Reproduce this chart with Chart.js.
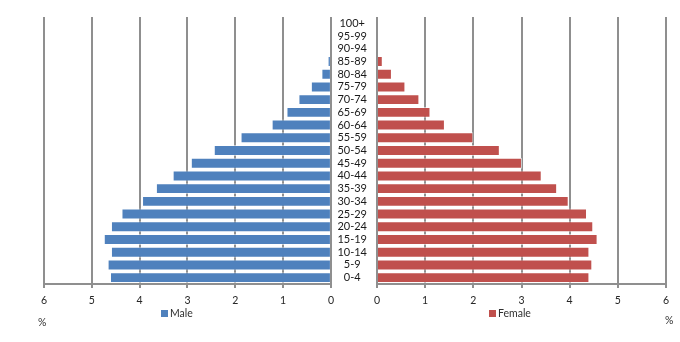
<!DOCTYPE html>
<html><head><meta charset="utf-8">
<script src="https://cdn.jsdelivr.net/npm/chart.js@4"></script>
<style>
html,body{margin:0;padding:0;background:#fff;}
#wrap{position:relative;width:680px;height:342px;overflow:hidden;font-family:Lato,sans-serif;color:#303030;}
canvas{position:absolute;top:0;}
#cL{left:0;} #cR{left:334px;}
.lg{position:absolute;font-size:10.5px;line-height:12px;white-space:nowrap;}
.sw{display:inline-block;width:7px;height:7px;margin-right:2px;vertical-align:0px;}
.pct{position:absolute;font-size:10.5px;line-height:12px;}
</style></head>
<body><div id="wrap">
<canvas id="cL" width="340" height="342"></canvas>
<canvas id="cR" width="346" height="342"></canvas>
<div class="lg" style="left:161px;top:307px;"><span class="sw" style="background:#4F81BD"></span>Male</div>
<div class="lg" style="left:489px;top:307px;"><span class="sw" style="background:#C0504D"></span>Female</div>
<div class="pct" style="left:38px;top:316px;">%</div>
<div class="pct" style="left:665px;top:314px;">%</div>
</div>
<script>
// age groups, youngest first
const ageGroups = ['0-4','5-9','10-14','15-19','20-24','25-29','30-34','35-39','40-44','45-49','50-54','55-59','60-64','65-69','70-74','75-79','80-84','85-89','90-94','95-99','100+'];
const maleShare   = [4.62,4.67,4.60,4.75,4.60,4.38,3.95,3.66,3.31,2.93,2.45,1.89,1.24,0.93,0.68,0.42,0.20,0.07,0,0,0];
const femaleShare = [4.41,4.47,4.41,4.58,4.49,4.36,3.98,3.74,3.42,3.01,2.55,2.00,1.41,1.11,0.88,0.59,0.31,0.12,0,0,0];
const axisMin = 0, axisMax = 6, axisStep = 1;

Chart.defaults.font.family = 'Lato, sans-serif';
Chart.defaults.font.size = 10.5;
Chart.defaults.color = '#262626';

const gridCol = '#8f8f8f';

function xScale(reverse){
  return {
    type:'linear', min:axisMin, max:axisMax, reverse:reverse,
    ticks:{stepSize:axisStep, padding:6, color:'#262626'},
    grid:{color:gridCol, lineWidth:2, tickLength:4, drawTicks:true},
    border:{color:gridCol, width:2},
    afterFit(s){ s.height = 30; }
  };
}

new Chart(document.getElementById('cL'), {
  type:'bar',
  data:{labels:ageGroups, datasets:[{label:'Male', data:maleShare, backgroundColor:'#4F81BD', borderColor:'rgba(255,255,255,0.55)', borderWidth:1, barPercentage:0.86, categoryPercentage:1}]},
  options:{
    indexAxis:'y', responsive:false, animation:false,
    layout:{padding:{left:44,right:7,top:17,bottom:28}},
    plugins:{legend:{display:false}, tooltip:{enabled:false}},
    scales:{
      x:xScale(true),
      y:{type:'category', reverse:true, display:false, grid:{display:false}}
    }
  }
});

new Chart(document.getElementById('cR'), {
  type:'bar',
  data:{labels:ageGroups, datasets:[{label:'Female', data:femaleShare, backgroundColor:'#C0504D', borderColor:'rgba(255,255,255,0.55)', borderWidth:1, barPercentage:0.86, categoryPercentage:1}]},
  options:{
    indexAxis:'y', responsive:false, animation:false,
    layout:{padding:{left:0,right:14,top:17,bottom:28}},
    plugins:{legend:{display:false}, tooltip:{enabled:false}},
    scales:{
      x:xScale(false),
      y:{type:'category', reverse:true,
         ticks:{crossAlign:'center', padding:10, color:'#1a1a1a', autoSkip:false, font:{size:11}},
         grid:{display:false, drawTicks:false}, border:{display:false},
         afterFit(s){ s.width = 43; }}
    }
  }
});
</script>
</body></html>
